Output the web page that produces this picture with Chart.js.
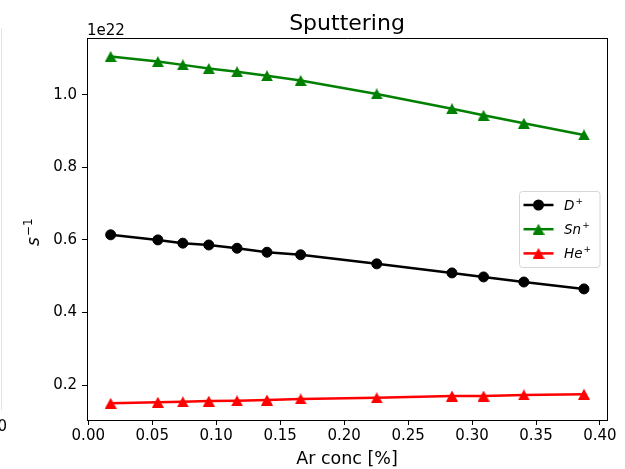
<!DOCTYPE html>
<html>
<head>
<meta charset="utf-8">
<script src="https://cdn.jsdelivr.net/npm/chart.js@4.4.1/dist/chart.umd.min.js"></script>
<style>
    html, body { margin: 0; padding: 0; background: #fff; }
    #wrap { width: 625px; height: 469px; }
</style>
</head>
<body>
<div id="wrap"><canvas id="sputterChart" width="625" height="469"></canvas></div>
<script>
// Ar concentration [%] at each simulated point
const arConc = [0.0175, 0.0544, 0.0739, 0.0942, 0.1163, 0.1397, 0.166, 0.2255, 0.2843, 0.309, 0.3405, 0.3875];

// sputtering rates, in units of 1e22 s^-1
const dRate  = [0.614, 0.600, 0.591, 0.586, 0.577, 0.566, 0.559, 0.534, 0.509, 0.498, 0.484, 0.465];
const snRate = [1.105, 1.091, 1.082, 1.072, 1.063, 1.052, 1.039, 1.002, 0.961, 0.943, 0.921, 0.889];
const heRate = [0.150, 0.153, 0.154, 0.156, 0.157, 0.159, 0.162, 0.165, 0.170, 0.170, 0.173, 0.175];

const xTicks = [0.00, 0.05, 0.10, 0.15, 0.20, 0.25, 0.30, 0.35, 0.40];
const yTicks = [0.2, 0.4, 0.6, 0.8, 1.0];
const offsetLabel = '1e22';

const FONT = '"DejaVu Sans", sans-serif';

// triangle marker (bbox-centred, like an up-triangle)
function makeTriangle(color) {
    const c = document.createElement('canvas');
    c.width = 12;
    c.height = 11;
    const g = c.getContext('2d');
    g.fillStyle = color;
    g.beginPath();
    g.moveTo(6, 0);
    g.lineTo(12, 11);
    g.lineTo(0, 11);
    g.closePath();
    g.fill();
    return c;
}

const series = [
    { label: 'D', color: '#000000', data: dRate, marker: 'circle' },
    { label: 'Sn', color: '#008000', data: snRate, marker: makeTriangle('#008000') },
    { label: 'He', color: '#ff0000', data: heRate, marker: makeTriangle('#ff0000') }
];

function drawMarker(ctx, marker, color, x, y) {
    if (marker === 'circle') {
        ctx.fillStyle = color;
        ctx.beginPath();
        ctx.arc(x, y, 5.5, 0, Math.PI * 2);
        ctx.fill();
    } else {
        ctx.drawImage(marker, x - marker.width / 2, y - marker.height / 2);
    }
}

// text with a raised superscript, returns the end x
function drawSup(ctx, x, y, base, sup, size, italicBase) {
    ctx.font = `${italicBase ? 'italic ' : ''}${size}px ${FONT}`;
    ctx.fillText(base, x, y);
    x += ctx.measureText(base).width + 1;
    const supSize = Math.round(size * 0.7);
    ctx.font = `${supSize}px ${FONT}`;
    ctx.fillText(sup, x, y - size * 0.42);
    return x + ctx.measureText(sup).width;
}

const decorations = {
    id: 'decorations',
    afterDraw(chart) {
        const { ctx, chartArea } = chart;
        const { left, right, top, bottom } = chartArea;
        ctx.save();

        // top and right spines
        ctx.strokeStyle = '#000';
        ctx.lineWidth = 1;
        ctx.beginPath();
        ctx.moveTo(left, Math.floor(top) + 0.5);
        ctx.lineTo(right + 0.5, Math.floor(top) + 0.5);
        ctx.moveTo(Math.floor(right) + 0.5, top);
        ctx.lineTo(Math.floor(right) + 0.5, bottom);
        ctx.stroke();

        ctx.fillStyle = '#000';
        ctx.textBaseline = 'alphabetic';

        // title
        ctx.textAlign = 'center';
        ctx.font = `22px ${FONT}`;
        ctx.fillText('Sputtering', (left + right) / 2, 29.5);

        // x axis label
        ctx.font = `17.5px ${FONT}`;
        ctx.fillText('Ar conc [%]', (left + right) / 2, 464);

        // axis offset
        ctx.textAlign = 'left';
        ctx.font = `15px ${FONT}`;
        ctx.fillText(offsetLabel, left, 35);

        // y axis label, rotated
        ctx.save();
        ctx.translate(39, 246);
        ctx.rotate(-Math.PI / 2);
        drawSup(ctx, 0, 0, 's', '\u22121', 17, true);
        ctx.restore();

        // legend
        const lx = 519.5, ly = 191.5, lw = 80.5, lh = 76;
        ctx.fillStyle = 'rgba(255,255,255,0.8)';
        ctx.strokeStyle = '#d6d6d6';
        ctx.lineWidth = 1;
        ctx.beginPath();
        ctx.roundRect(lx, ly, lw, lh, 3);
        ctx.fill();
        ctx.stroke();

        series.forEach((s, i) => {
            const rowY = 205 + i * 24.2;
            ctx.strokeStyle = s.color;
            ctx.lineWidth = 2.5;
            ctx.beginPath();
            ctx.moveTo(523.5, rowY);
            ctx.lineTo(553.5, rowY);
            ctx.stroke();
            drawMarker(ctx, s.marker, s.color, 538.5, rowY);
            ctx.fillStyle = '#000';
            drawSup(ctx, 564, rowY + 4.5, s.label, '+', 13.5, true);
        });

        // neighbouring panel edge on the far left
        ctx.strokeStyle = '#e4e4e4';
        ctx.lineWidth = 1;
        ctx.beginPath();
        ctx.moveTo(1.5, 28);
        ctx.lineTo(1.5, 410);
        ctx.stroke();
        ctx.fillStyle = '#000';
        ctx.textAlign = 'right';
        ctx.font = `15px ${FONT}`;
        ctx.fillText('0', 7, 431);

        ctx.restore();
    }
};

const tickFont = { family: FONT, size: 15 };

new Chart(document.getElementById('sputterChart'), {
    type: 'line',
    data: {
        datasets: series.map(s => ({
            label: s.label,
            data: arConc.map((x, i) => ({ x, y: s.data[i] })),
            borderColor: s.color,
            backgroundColor: s.color,
            borderWidth: 2.5,
            tension: 0,
            pointStyle: s.marker,
            pointRadius: s.marker === 'circle' ? 5 : 6,
            pointBorderWidth: 1,
            pointBorderColor: s.color,
            pointBackgroundColor: s.color,
            clip: false
        }))
    },
    options: {
        responsive: false,
        animation: false,
        layout: { padding: { top: 38, right: 18, left: 0, bottom: 0 } },
        plugins: {
            legend: { display: false },
            tooltip: { enabled: false }
        },
        scales: {
            x: {
                type: 'linear',
                min: -0.001,
                max: 0.4055,
                afterFit: s => { s.height = 49; },
                afterBuildTicks: s => { s.ticks = xTicks.map(v => ({ value: v })); },
                grid: { drawOnChartArea: false, tickLength: 5, color: '#000' },
                border: { color: '#000', width: 1 },
                ticks: {
                    font: tickFont,
                    color: '#000',
                    padding: 2,
                    maxRotation: 0,
                    autoSkip: false,
                    callback: v => v.toFixed(2)
                }
            },
            y: {
                min: 0.104,
                max: 1.156,
                afterFit: s => { s.width = 87; },
                afterBuildTicks: s => { s.ticks = yTicks.map(v => ({ value: v })); },
                grid: { drawOnChartArea: false, tickLength: 5, color: '#000' },
                border: { color: '#000', width: 1 },
                ticks: {
                    font: tickFont,
                    color: '#000',
                    padding: 5,
                    autoSkip: false,
                    callback: v => v.toFixed(1)
                }
            }
        }
    },
    plugins: [decorations]
});
</script>
</body>
</html>
